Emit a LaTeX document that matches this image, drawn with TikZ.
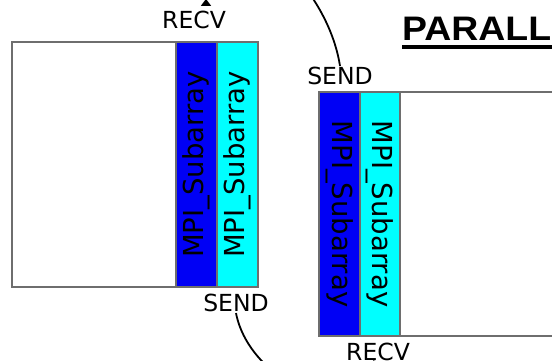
\documentclass[tikz,border=0pt]{standalone}
\usepackage{fontspec}
\setmainfont{DejaVu Sans}
\newfontfamily\headfont{Liberation Sans}
\usetikzlibrary{arrows.meta,calc}
\definecolor{edgegray}{RGB}{110,110,110}
\definecolor{haloblue}{RGB}{0,0,245}
\definecolor{halocyan}{RGB}{0,255,255}
\begin{document}
\begin{tikzpicture}[x=1pt,y=-1pt,
  cell/.style={draw=edgegray, line width=1.5pt, inner sep=0pt, outer sep=0pt, anchor=north west},
  strip/.style={font=\fontsize{27.5}{27.5}\selectfont, inner sep=0pt},
  tag/.style={font=\fontsize{23.5}{23.5}\selectfont, inner sep=1pt},
  link/.style={line width=1.8pt, black, -{Triangle[reversed, length=7pt, width=10pt]}}]
\useasboundingbox (0,0) rectangle (552,360);

% left process: local block with two halo strips
\node[cell, fill=white, minimum width=164pt, minimum height=245pt] (gridL) at (12,42) {};
\node[cell, fill=haloblue, minimum width=41pt, minimum height=245pt] (blueL) at (176,42) {};
\node[cell, fill=halocyan, minimum width=41pt, minimum height=245pt] (cyanL) at (217,42) {};
\node[strip, rotate=90] (txtBL) at (blueL.center) {MPI\_Subarray};
\node[strip, rotate=90] (txtCL) at (cyanL.center) {MPI\_Subarray};

% right process: two halo strips then the local block
\node[cell, fill=white, minimum width=170pt, minimum height=244pt] (gridR) at (400,92) {};
\node[cell, fill=haloblue, minimum width=41pt, minimum height=244pt] (blueR) at (319,92) {};
\node[cell, fill=halocyan, minimum width=40pt, minimum height=244pt] (cyanR) at (360,92) {};
\node[strip, rotate=-90] (txtBR) at (blueR.center) {MPI\_Subarray};
\node[strip, rotate=-90] (txtCR) at (cyanR.center) {MPI\_Subarray};

% send / receive labels
\node[tag] (recvL) at (194,20) {RECV};
\node[tag] (sendL) at (236,303) {SEND};
\node[tag] (sendR) at (340,76) {SEND};
\node[tag] (recvR) at (378,351.5) {RECV};

% title
\node[anchor=base west, inner sep=0pt, xscale=1.1,
      font=\headfont\bfseries\fontsize{34}{34}\selectfont] (title) at (402,40) {PARALLEL};
\draw[line width=3.5pt] ($(title.base west)+(0,7)$) -- ($(title.base east)+(0,7)$);

% halo exchange
\draw[link] (sendR.north) .. controls (325,-30) and (206,-120) .. ($(recvL.north)+(12,-4)$);
\draw[link] (sendL.south) .. controls (250,385) and (360,430) .. (recvR.south);
\end{tikzpicture}
\end{document}
